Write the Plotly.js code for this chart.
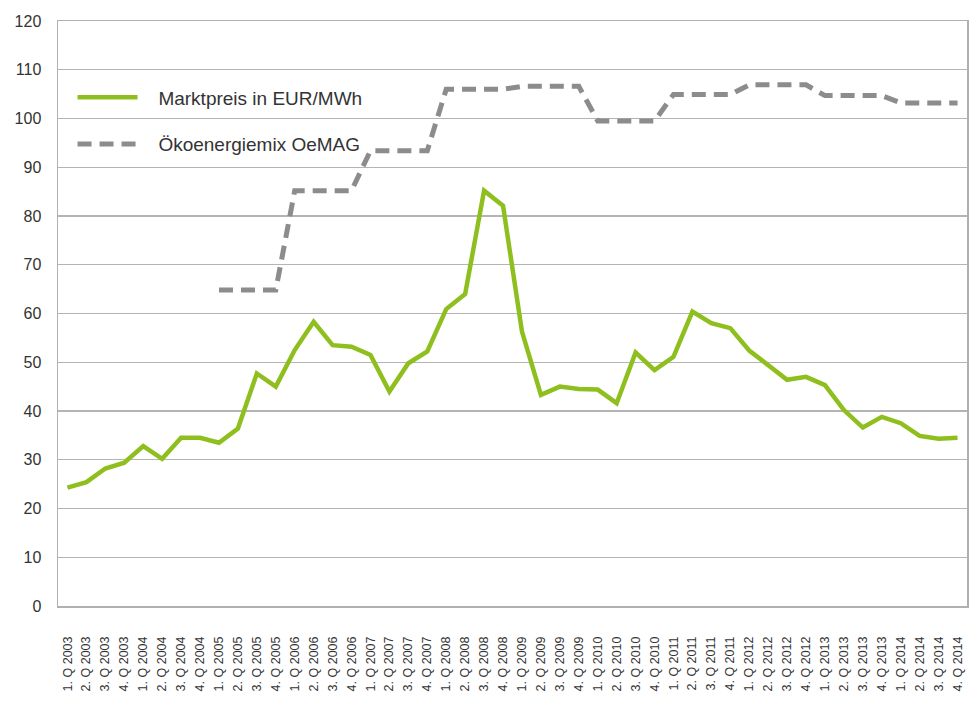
<!DOCTYPE html>
<html>
<head>
<meta charset="utf-8">
<script src="https://cdn.plot.ly/plotly-3.0.1.min.js"></script>
<style>html,body{margin:0;padding:0;background:#fff;}#chart{width:972px;height:702px;}</style>
</head>
<body>
<div id="chart"></div>
<script>
const quarters = [
  "1. Q 2003","2. Q 2003","3. Q 2003","4. Q 2003",
  "1. Q 2004","2. Q 2004","3. Q 2004","4. Q 2004",
  "1. Q 2005","2. Q 2005","3. Q 2005","4. Q 2005",
  "1. Q 2006","2. Q 2006","3. Q 2006","4. Q 2006",
  "1. Q 2007","2. Q 2007","3. Q 2007","4. Q 2007",
  "1. Q 2008","2. Q 2008","3. Q 2008","4. Q 2008",
  "1. Q 2009","2. Q 2009","3. Q 2009","4. Q 2009",
  "1. Q 2010","2. Q 2010","3. Q 2010","4. Q 2010",
  "1. Q 2011","2. Q 2011","3. Q 2011","4. Q 2011",
  "1. Q 2012","2. Q 2012","3. Q 2012","4. Q 2012",
  "1. Q 2013","2. Q 2013","3. Q 2013","4. Q 2013",
  "1. Q 2014","2. Q 2014","3. Q 2014","4. Q 2014"
];
const marktpreis = [
  24.3,25.4,28.2,29.4,
  32.8,30.2,34.5,34.5,
  33.5,36.4,47.7,45.0,
  52.5,58.3,53.5,53.2,
  51.5,44.0,49.8,52.2,
  60.9,64.0,85.2,82.1,
  56.3,43.3,45.0,44.5,
  44.4,41.6,52.0,48.4,
  51.1,60.4,58.0,57.0,
  52.4,49.4,46.4,47.0,
  45.3,40.2,36.6,38.8,
  37.5,34.9,34.3,34.5
];
const oemag = [
  null,null,null,null,
  null,null,null,null,
  64.8,64.8,64.8,64.8,
  85.2,85.2,85.2,85.2,
  93.4,93.4,93.4,93.4,
  106.0,106.0,106.0,106.0,
  106.6,106.6,106.6,106.6,
  99.5,99.5,99.5,99.5,
  104.9,104.9,104.9,104.9,
  106.9,106.9,106.9,106.9,
  104.7,104.7,104.7,104.7,
  103.2,103.2,103.2,103.2
];
const seriesNames = ["Marktpreis in EUR/MWh", "Ökoenergiemix OeMAG"];
const yTicks = [0,10,20,30,40,50,60,70,80,90,100,110,120];

const FONT = "Liberation Sans, Arial, sans-serif";
const PAD = "\u00a0\u00a0\u00a0";
const traces = [
  {x: quarters, y: marktpreis, name: PAD + seriesNames[0], legendgroup: "a", type: "scatter", mode: "lines",
   line: {color: "#8fbf1e", width: 4.5}},
  {x: quarters, y: oemag, name: PAD + seriesNames[1], legendgroup: "b", type: "scatter", mode: "lines",
   line: {color: "#8c8c8c", width: 5, dash: "14px,8px"}}
];
const layout = {
  width: 972, height: 702,
  margin: {l: 58, r: 5, t: 21, b: 96},
  paper_bgcolor: "#fff", plot_bgcolor: "#fff",
  font: {family: FONT, color: "#333", size: 16},
  showlegend: true,
  legend: {x: 0.016, y: 0.902, xanchor: "left", yanchor: "top", bgcolor: "rgba(0,0,0,0)",
           font: {family: FONT, size: 19, color: "#333"}, itemwidth: 60,
           traceorder: "grouped", tracegroupgap: 19},
  xaxis: {type: "category", range: [-0.5, 47.5], tickangle: -90, showgrid: false,
          showline: true, linecolor: "#b0b0b0", linewidth: 1.5, mirror: true,
          ticks: "", tickfont: {family: FONT, size: 12.5, color: "#333"}, ticklabelstandoff: 24,
          zeroline: false, fixedrange: true},
  yaxis: {range: [0, 120], tickvals: yTicks, showgrid: true, gridcolor: "#b4b4b4", gridwidth: 1.3,
          showline: true, linecolor: "#b0b0b0", linewidth: 1.5, mirror: true, ticks: "",
          tickfont: {family: FONT, size: 16, color: "#333"}, ticklabelstandoff: 12,
          zeroline: false, fixedrange: true}
};
Plotly.newPlot("chart", traces, layout, {displayModeBar: false, staticPlot: true});
</script>
</body>
</html>
